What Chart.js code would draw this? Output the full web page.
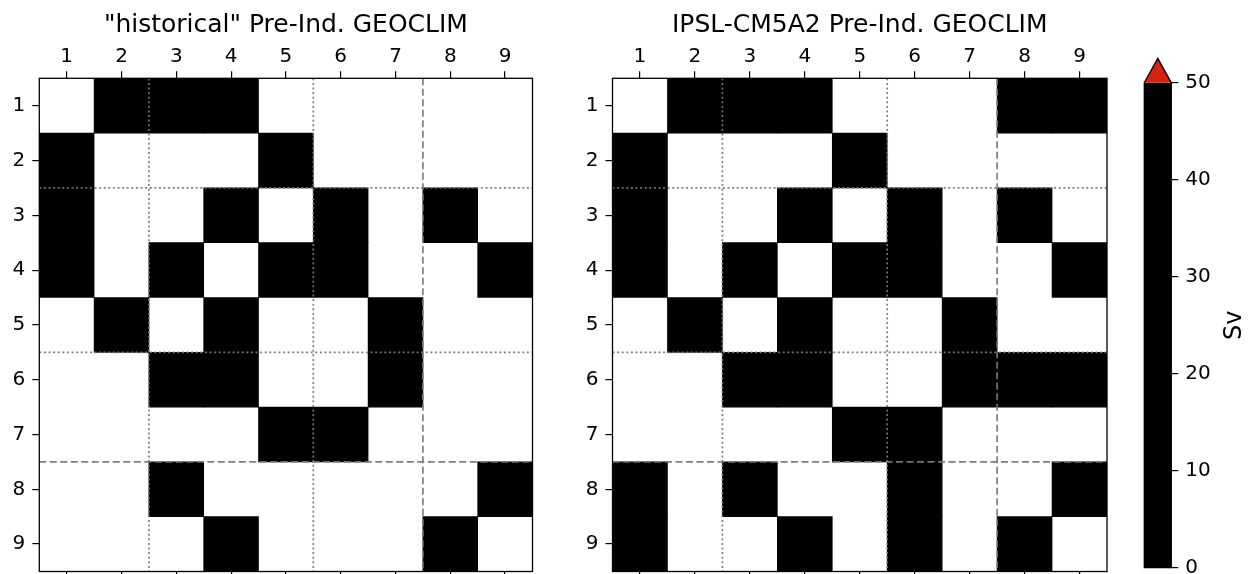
<!DOCTYPE html>
<html>
<head>
<meta charset="utf-8">
<title>GEOCLIM connectivity</title>
<script src="https://cdn.jsdelivr.net/npm/chart.js@4.4.1/dist/chart.umd.min.js"></script>
<style>
    html, body { margin: 0; padding: 0; background: #fff; overflow: hidden; width: 1248px; height: 574px; }
    canvas { position: absolute; top: 0; }
    #histChart { left: 0; }
    #ipslChart { left: 573px; }
    #cbarChart { left: 1110px; }
</style>
</head>
<body>
<canvas id="histChart" width="545" height="600"></canvas>
<canvas id="ipslChart" width="545" height="600"></canvas>
<canvas id="cbarChart" width="138" height="600"></canvas>
<script>
// basin labels (columns = to, rows = from)
const colLabels = ['1', '2', '3', '4', '5', '6', '7', '8', '9'];
const rowLabels = [1, 2, 3, 4, 5, 6, 7, 8, 9];

// 1 = exchange present (drawn black), 0 = none
const histGrid = [
    [0, 1, 1, 1, 0, 0, 0, 0, 0],
    [1, 0, 0, 0, 1, 0, 0, 0, 0],
    [1, 0, 0, 1, 0, 1, 0, 1, 0],
    [1, 0, 1, 0, 1, 1, 0, 0, 1],
    [0, 1, 0, 1, 0, 0, 1, 0, 0],
    [0, 0, 1, 1, 0, 0, 1, 0, 0],
    [0, 0, 0, 0, 1, 1, 0, 0, 0],
    [0, 0, 1, 0, 0, 0, 0, 0, 1],
    [0, 0, 0, 1, 0, 0, 0, 1, 0]
];
const ipslGrid = [
    [0, 1, 1, 1, 0, 0, 0, 1, 1],
    [1, 0, 0, 0, 1, 0, 0, 0, 0],
    [1, 0, 0, 1, 0, 1, 0, 1, 0],
    [1, 0, 1, 0, 1, 1, 0, 0, 1],
    [0, 1, 0, 1, 0, 0, 1, 0, 0],
    [0, 0, 1, 1, 0, 0, 1, 1, 1],
    [0, 0, 0, 0, 1, 1, 0, 0, 0],
    [1, 0, 1, 0, 0, 1, 0, 0, 1],
    [1, 0, 0, 1, 0, 1, 0, 1, 0]
];

// region separators
const dottedBounds = [2.5, 5.5];
const dashedBounds = [7.5];

// colorbar
const cbarTicks = [0, 10, 20, 30, 40, 50];
const cbarMin = 0;
const cbarMax = 50;

Chart.defaults.font.family = "'DejaVu Sans', sans-serif";
Chart.defaults.color = '#000';
Chart.defaults.animation = false;

const tickFont = { size: 20 };

// separators + frame drawn on top of the cells
const gridLinesPlugin = {
    id: 'gridLines',
    afterDatasetsDraw(chart) {
        const { ctx, chartArea: a, scales } = chart;
        const x = scales.x, y = scales.y;
        ctx.save();
        ctx.strokeStyle = 'rgba(120,120,120,0.95)';
        ctx.lineWidth = 1.7;
        const drawSet = (bounds, dash) => {
            ctx.setLineDash(dash);
            bounds.forEach(b => {
                const px = x.getPixelForValue(b - 1);
                ctx.beginPath();
                ctx.moveTo(px, a.top);
                ctx.lineTo(px, a.bottom);
                ctx.stroke();
                const py = y.getPixelForValue(b);
                ctx.beginPath();
                ctx.moveTo(a.left, py);
                ctx.lineTo(a.right, py);
                ctx.stroke();
            });
        };
        drawSet(dottedBounds, [2, 2.6]);
        drawSet(dashedBounds, [7, 3.5]);
        ctx.setLineDash([]);
        ctx.strokeStyle = '#000';
        ctx.lineWidth = 1.3;
        ctx.strokeRect(a.left, a.top, a.right - a.left, a.bottom - a.top);
        ctx.restore();
    }
};

function makePanel(id, title, grid, yAxisWidth, padRight) {
    const datasets = grid.map((row, r) => ({
        data: row.map(v => v ? [rowLabels[r] - 0.5, rowLabels[r] + 0.5] : null),
        backgroundColor: '#000',
        borderWidth: 0,
        grouped: false,
        barPercentage: 1,
        categoryPercentage: 1
    }));
    const tickGrid = {
        display: true,
        drawOnChartArea: false,
        drawTicks: true,
        tickLength: 7,
        color: '#000',
        lineWidth: 1.2,
        offset: false
    };
    return new Chart(document.getElementById(id), {
        type: 'bar',
        data: { labels: colLabels, datasets: datasets },
        options: {
            responsive: false,
            layout: { padding: { left: 0, right: padRight, top: 0, bottom: 8.5 } },
            plugins: {
                legend: { display: false },
                tooltip: { enabled: false },
                title: {
                    display: true,
                    text: title,
                    fullSize: false,
                    font: { size: 25, weight: 'normal' },
                    color: '#000',
                    padding: { top: 10, bottom: 4 }
                }
            },
            scales: {
                x: {
                    type: 'category',
                    position: 'top',
                    offset: true,
                    grid: tickGrid,
                    border: { display: false },
                    ticks: { font: tickFont, padding: 3, maxRotation: 0 },
                    afterFit: s => { s.height = 34.3; }
                },
                xBottom: {
                    type: 'category',
                    labels: colLabels,
                    position: 'bottom',
                    offset: true,
                    grid: tickGrid,
                    border: { display: false },
                    ticks: { display: false },
                    afterFit: s => { s.height = 20; }
                },
                y: {
                    type: 'linear',
                    reverse: true,
                    min: 0.5,
                    max: 9.5,
                    grid: tickGrid,
                    border: { display: false },
                    ticks: { font: tickFont, padding: 7 },
                    afterBuildTicks: s => { s.ticks = rowLabels.map(v => ({ value: v })); },
                    afterFit: s => { s.width = yAxisWidth; }
                }
            }
        },
        plugins: [gridLinesPlugin]
    });
}

makePanel('histChart', '"historical" Pre-Ind. GEOCLIM', histGrid, 39.3, 12.5);
makePanel('ipslChart', 'IPSL-CM5A2 Pre-Ind. GEOCLIM', ipslGrid, 39.5, 11);

// colorbar: extend triangle, outline and label
const cbarPlugin = {
    id: 'cbarDeco',
    afterDatasetsDraw(chart) {
        const { ctx, chartArea: a } = chart;
        const h = a.bottom - a.top;
        const tip = a.top - 0.05 * h;
        const cx = (a.left + a.right) / 2;
        ctx.save();
        ctx.beginPath();
        ctx.moveTo(a.left, a.top);
        ctx.lineTo(cx, tip);
        ctx.lineTo(a.right, a.top);
        ctx.closePath();
        ctx.fillStyle = '#d42312';
        ctx.fill();
        ctx.beginPath();
        ctx.moveTo(a.left, a.bottom);
        ctx.lineTo(a.left, a.top);
        ctx.lineTo(cx, tip);
        ctx.lineTo(a.right, a.top);
        ctx.lineTo(a.right, a.bottom);
        ctx.closePath();
        ctx.strokeStyle = '#000';
        ctx.lineWidth = 1.3;
        ctx.stroke();
        // axis label, rotated like matplotlib
        ctx.translate(a.right + 63, (a.top + a.bottom) / 2);
        ctx.rotate(-Math.PI / 2);
        ctx.font = "24px 'DejaVu Sans'";
        ctx.fillStyle = '#000';
        ctx.textAlign = 'center';
        ctx.textBaseline = 'middle';
        ctx.fillText('Sv', 0, 0);
        ctx.restore();
    }
};

new Chart(document.getElementById('cbarChart'), {
    type: 'bar',
    data: {
        labels: [''],
        datasets: [{
            data: [[cbarMin, cbarMax]],
            backgroundColor: '#000',
            borderWidth: 0,
            barPercentage: 1,
            categoryPercentage: 1
        }]
    },
    options: {
        responsive: false,
        layout: { padding: { left: 34.3, right: 16.7, top: 82.7, bottom: 32.3 } },
        plugins: { legend: { display: false }, tooltip: { enabled: false } },
        scales: {
            x: { display: false },
            y: {
                position: 'right',
                min: cbarMin,
                max: cbarMax,
                grid: { drawOnChartArea: false, drawTicks: true, tickLength: 7, color: '#000', lineWidth: 1.2 },
                border: { display: false },
                ticks: { font: tickFont, padding: 7 },
                afterBuildTicks: s => { s.ticks = cbarTicks.map(v => ({ value: v })); },
                afterFit: s => { s.width = 60; }
            }
        }
    },
    plugins: [cbarPlugin]
});
</script>
</body>
</html>
